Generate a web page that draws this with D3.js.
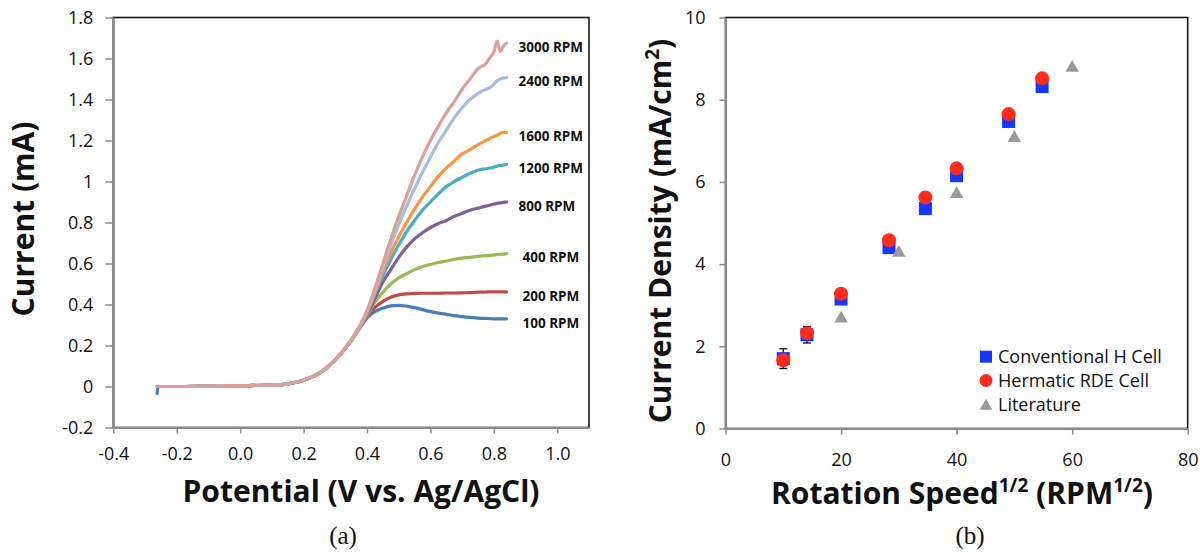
<!DOCTYPE html>
<html>
<head>
<meta charset="utf-8">
<script src="https://cdn.jsdelivr.net/npm/d3@7"></script>
<style>
  html, body { margin: 0; padding: 0; background: #fff; }
  svg { display: block; }
  text { font-family: "Open Sans", "Noto Sans", sans-serif; fill: #111; }
</style>
</head>
<body>
<svg id="chart" width="1200" height="552"></svg>
<script>
// ---------------- Data: panel (a) ----------------
const potential = [-0.262, -0.258, -0.2, -0.1, 0.0, 0.1, 0.15, 0.2, 0.25, 0.3, 0.35, 0.375,
  0.4, 0.425, 0.45, 0.475, 0.5, 0.525, 0.55, 0.575, 0.6, 0.625, 0.65, 0.675, 0.7, 0.725, 0.75, 0.775,
  0.79, 0.8, 0.81, 0.82, 0.83, 0.84];

const rpm100  = [-0.035, 0, 0, 0.002, 0.004, 0.007, 0.013, 0.03, 0.065, 0.13, 0.222, 0.28,
  0.335, 0.365, 0.382, 0.393, 0.396, 0.392, 0.385, 0.375, 0.365, 0.358, 0.352, 0.346, 0.341, 0.337, 0.334, 0.332,
  0.331, 0.330, 0.330, 0.330, 0.330, 0.330];
const rpm200  = [0, 0, 0, 0.002, 0.004, 0.007, 0.013, 0.03, 0.065, 0.13, 0.224, 0.283,
  0.34, 0.385, 0.415, 0.435, 0.447, 0.452, 0.454, 0.455, 0.455, 0.455, 0.456, 0.456, 0.457, 0.458, 0.46, 0.461,
  0.462, 0.462, 0.462, 0.462, 0.462, 0.462];
const rpm400  = [0, 0, 0, 0.002, 0.004, 0.007, 0.013, 0.03, 0.065, 0.13, 0.225, 0.285,
  0.345, 0.41, 0.46, 0.50, 0.53, 0.55, 0.57, 0.585, 0.595, 0.605, 0.612, 0.62, 0.626, 0.63, 0.635, 0.638,
  0.64, 0.642, 0.643, 0.645, 0.646, 0.648];
const rpm800  = [0, 0, 0, 0.002, 0.004, 0.007, 0.013, 0.03, 0.065, 0.13, 0.225, 0.285,
  0.35, 0.43, 0.51, 0.57, 0.63, 0.68, 0.72, 0.75, 0.775, 0.795, 0.81, 0.83, 0.845, 0.86, 0.87, 0.88,
  0.885, 0.89, 0.893, 0.896, 0.898, 0.90];
const rpm1200 = [0, 0, 0, 0.002, 0.004, 0.007, 0.013, 0.03, 0.065, 0.13, 0.225, 0.285,
  0.355, 0.45, 0.54, 0.62, 0.69, 0.755, 0.81, 0.86, 0.90, 0.94, 0.975, 1.0, 1.02, 1.04, 1.055, 1.062,
  1.066, 1.07, 1.075, 1.078, 1.08, 1.083];
const rpm1600 = [0, 0, 0, 0.002, 0.004, 0.007, 0.013, 0.03, 0.065, 0.13, 0.225, 0.286,
  0.36, 0.46, 0.56, 0.65, 0.73, 0.80, 0.865, 0.925, 0.975, 1.025, 1.065, 1.10, 1.135, 1.155, 1.18, 1.20,
  1.212, 1.22, 1.225, 1.235, 1.24, 1.24];
const rpm2400 = [0, 0, 0, 0.002, 0.004, 0.007, 0.013, 0.03, 0.065, 0.13, 0.226, 0.288,
  0.365, 0.47, 0.58, 0.69, 0.79, 0.88, 0.965, 1.045, 1.12, 1.19, 1.25, 1.31, 1.36, 1.40, 1.43, 1.45,
  1.46, 1.475, 1.49, 1.50, 1.505, 1.507];
const rpm3000 = [0, 0, 0, 0.002, 0.004, 0.007, 0.013, 0.03, 0.065, 0.13, 0.227, 0.29,
  0.37, 0.48, 0.60, 0.72, 0.83, 0.93, 1.03, 1.12, 1.20, 1.27, 1.335, 1.39, 1.45, 1.50, 1.55, 1.575,
  1.61, 1.63, 1.685, 1.635, 1.66, 1.675];

const seriesNames = ["100 RPM", "200 RPM", "400 RPM", "800 RPM", "1200 RPM", "1600 RPM", "2400 RPM", "3000 RPM"];
const seriesValues = [rpm100, rpm200, rpm400, rpm800, rpm1200, rpm1600, rpm2400, rpm3000];
const seriesColors = ["#4a7ebb", "#be4b48", "#98b954", "#7d5fa0", "#4bacc6", "#f79646", "#a3bde3", "#dca09b"];

const aXTicks = [-0.4, -0.2, 0.0, 0.2, 0.4, 0.6, 0.8, 1.0];
const aXTickLabels = ["-0.4", "-0.2", "0.0", "0.2", "0.4", "0.6", "0.8", "1.0"];
const aYTicks = [-0.2, 0, 0.2, 0.4, 0.6, 0.8, 1, 1.2, 1.4, 1.6, 1.8];
const aYTickLabels = ["-0.2", "0", "0.2", "0.4", "0.6", "0.8", "1", "1.2", "1.4", "1.6", "1.8"];

// ---------------- Data: panel (b) ----------------
const sqrtSpeed = [10, 14.1, 20, 28.3, 34.6, 40, 49.0, 54.8];
const hCell     = [1.70, 2.28, 3.15, 4.40, 5.35, 6.15, 7.47, 8.32];
const hCellErr  = [0.24, 0.20, 0, 0, 0, 0, 0, 0];
const rdeCell   = [1.66, 2.32, 3.28, 4.58, 5.62, 6.33, 7.65, 8.52];
const litSpeed  = [20, 30, 40, 50, 60];
const literature = [2.70, 4.30, 5.73, 7.09, 8.80];
const legendLabels = ["Conventional H Cell", "Hermatic RDE Cell", "Literature"];

const bXTicks = [0, 20, 40, 60, 80];
const bXTickLabels = ["0", "20", "40", "60", "80"];
const bYTicks = [0, 2, 4, 6, 8, 10];
const bYTickLabels = ["0", "2", "4", "6", "8", "10"];

// ---------------- Drawing ----------------
const svg = d3.select("#chart");
svg.append("rect").attr("width", 1200).attr("height", 552).attr("fill", "#fff");

const axisGray = "#8a8a8a";

function styleAxis(g) {
  g.select(".domain").attr("stroke", axisGray).attr("stroke-width", 2);
  g.selectAll(".tick line").attr("stroke", axisGray).attr("stroke-width", 1.5);
  g.selectAll(".tick text").style("font-size", "18px").attr("fill", "#111");
}

// ----- Panel (a) -----
const xA = d3.scaleLinear().domain([-0.4, 1.1]).range([113.3, 589]);
const yA = d3.scaleLinear().domain([-0.2, 1.8]).range([427.5, 17.5]);

svg.append("rect")
  .attr("x", xA(-0.4)).attr("y", yA(1.8))
  .attr("width", xA(1.1) - xA(-0.4)).attr("height", yA(-0.2) - yA(1.8))
  .attr("fill", "none").attr("stroke", "#1a1a1a").attr("stroke-width", 1.6);

svg.append("g").attr("transform", `translate(0,${yA(-0.2)})`)
  .call(d3.axisBottom(xA).tickValues(aXTicks).tickFormat((d, i) => aXTickLabels[i])
    .tickSize(6).tickSizeOuter(0).tickPadding(14))
  .call(styleAxis);

svg.append("g").attr("transform", `translate(${xA(-0.4)},0)`)
  .call(d3.axisLeft(yA).tickValues(aYTicks).tickFormat((d, i) => aYTickLabels[i])
    .tickSize(8).tickSizeOuter(0).tickPadding(12))
  .call(styleAxis);

const lineA = d3.line().x((d, i) => xA(potential[i])).y(d => yA(d)).curve(d3.curveMonotoneX);

seriesValues.forEach((vals, k) => {
  svg.append("path").datum(vals)
    .attr("d", lineA)
    .attr("fill", "none")
    .attr("stroke", seriesColors[k])
    .attr("stroke-width", 3.2)
    .attr("stroke-linejoin", "round")
    .attr("stroke-linecap", "round");
});

seriesValues.forEach((vals, k) => {
  const last = vals[vals.length - 1];
  const dx = k <= 2 ? 16 : 12;
  svg.append("text")
    .attr("x", xA(potential[potential.length - 1]) + dx)
    .attr("y", yA(last) + 4)
    .attr("dy", "0.35em")
    .style("font-size", "13.5px").style("font-weight", 700)
    .text(seriesNames[k]);
});

svg.append("text")
  .attr("x", 361).attr("y", 502)
  .attr("text-anchor", "middle")
  .style("font-size", "30px").style("font-weight", 700)
  .text("Potential (V vs. Ag/AgCl)");

svg.append("text")
  .attr("transform", "translate(23,219) rotate(-90)")
  .attr("text-anchor", "middle").attr("dy", "0.35em")
  .style("font-size", "30px").style("font-weight", 700)
  .text("Current (mA)");

svg.append("text")
  .attr("x", 343).attr("y", 544)
  .attr("text-anchor", "middle")
  .style("font-family", "'Liberation Serif', serif").style("font-size", "25px")
  .text("(a)");

// ----- Panel (b) -----
const xB = d3.scaleLinear().domain([0, 80]).range([725.5, 1187.7]);
const yB = d3.scaleLinear().domain([0, 10]).range([428.5, 17.5]);

svg.append("rect")
  .attr("x", xB(0)).attr("y", yB(10))
  .attr("width", xB(80) - xB(0)).attr("height", yB(0) - yB(10))
  .attr("fill", "none").attr("stroke", "#1a1a1a").attr("stroke-width", 1.6);

svg.append("g").attr("transform", `translate(0,${yB(0)})`)
  .call(d3.axisBottom(xB).tickValues(bXTicks).tickFormat((d, i) => bXTickLabels[i])
    .tickSize(6).tickSizeOuter(0).tickPadding(19))
  .call(styleAxis);

svg.append("g").attr("transform", `translate(${xB(0)},0)`)
  .call(d3.axisLeft(yB).tickValues(bYTicks).tickFormat((d, i) => bYTickLabels[i])
    .tickSize(6).tickSizeOuter(0).tickPadding(14))
  .call(styleAxis);

const blue = "#1538ff", red = "#ff2b1c", gray = "#9a9a9a";
const sq = 13, circR = 7;
const tri = d3.symbol().type(d3.symbolTriangle).size(80);

// error bars
const eb = svg.append("g").attr("stroke", "#111").attr("stroke-width", 1.3);
sqrtSpeed.forEach((s, i) => {
  if (hCellErr[i] <= 0) return;
  const x = xB(s), y0 = yB(hCell[i] - hCellErr[i]), y1 = yB(hCell[i] + hCellErr[i]);
  eb.append("line").attr("x1", x).attr("x2", x).attr("y1", y0).attr("y2", y1);
  eb.append("line").attr("x1", x - 4).attr("x2", x + 4).attr("y1", y0).attr("y2", y0);
  eb.append("line").attr("x1", x - 4).attr("x2", x + 4).attr("y1", y1).attr("y2", y1);
});

svg.append("g").selectAll("rect").data(hCell).join("rect")
  .attr("x", (d, i) => xB(sqrtSpeed[i]) - sq / 2)
  .attr("y", d => yB(d) - sq / 2)
  .attr("width", sq).attr("height", sq)
  .attr("fill", blue);

svg.append("g").selectAll("circle").data(rdeCell).join("circle")
  .attr("cx", (d, i) => xB(sqrtSpeed[i]))
  .attr("cy", d => yB(d))
  .attr("r", circR)
  .attr("fill", red);

svg.append("g").selectAll("path").data(literature).join("path")
  .attr("d", tri)
  .attr("transform", (d, i) => `translate(${xB(litSpeed[i])},${yB(d) + 1})`)
  .attr("fill", gray);

// legend
const legend = svg.append("g");
const legY = [356.7, 380.5, 405];
legend.append("rect").attr("x", 986 - 6).attr("y", legY[0] - 6).attr("width", 12).attr("height", 12).attr("fill", blue);
legend.append("circle").attr("cx", 986).attr("cy", legY[1]).attr("r", 6.5).attr("fill", red);
legend.append("path").attr("d", d3.symbol().type(d3.symbolTriangle).size(70))
  .attr("transform", `translate(986,${legY[2] + 1})`).attr("fill", gray);
legendLabels.forEach((t, i) => {
  legend.append("text").attr("x", 998).attr("y", legY[i]).attr("dy", "0.35em")
    .style("font-size", "18px").text(t);
});

const xt = svg.append("text")
  .attr("x", 962).attr("y", 504)
  .attr("text-anchor", "middle")
  .style("font-size", "30px").style("font-weight", 700);
xt.append("tspan").text("Rotation Speed");
xt.append("tspan").attr("dy", -12).style("font-size", "19px").text("1/2");
xt.append("tspan").attr("dy", 12).text(" (RPM");
xt.append("tspan").attr("dy", -12).style("font-size", "19px").text("1/2");
xt.append("tspan").attr("dy", 12).text(")");

const yt = svg.append("text")
  .attr("transform", "translate(660,231) rotate(-90)")
  .attr("text-anchor", "middle").attr("dy", "0.35em")
  .style("font-size", "30px").style("font-weight", 700);
yt.append("tspan").text("Current Density (mA/cm");
yt.append("tspan").attr("dy", -12).style("font-size", "19px").text("2");
yt.append("tspan").attr("dy", 12).text(")");

svg.append("text")
  .attr("x", 970).attr("y", 544)
  .attr("text-anchor", "middle")
  .style("font-family", "'Liberation Serif', serif").style("font-size", "25px")
  .text("(b)");
</script>
</body>
</html>
